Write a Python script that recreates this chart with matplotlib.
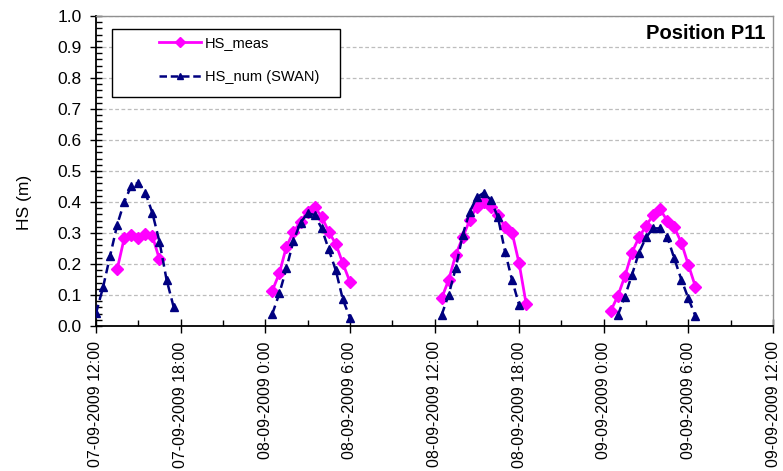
import matplotlib
matplotlib.use("Agg")
import matplotlib.pyplot as plt
import matplotlib.dates as mdates
from matplotlib.patches import Rectangle
from matplotlib.lines import Line2D
import numpy as np
import pandas as pd

plt.rcParams['font.family'] = ['Liberation Sans', 'DejaVu Sans']

# ---- data (30-minute samples, one list per tidal window) ----
num_starts = ["2009-09-07 12:00", "2009-09-08 00:30", "2009-09-08 12:30", "2009-09-09 01:00"]
hs_num_1 = [0.041, 0.125, 0.226, 0.326, 0.400, 0.452, 0.462, 0.430, 0.364, 0.272, 0.150, 0.062]
hs_num_2 = [0.039, 0.105, 0.186, 0.275, 0.333, 0.364, 0.358, 0.315, 0.247, 0.180, 0.086, 0.027]
hs_num_3 = [0.035, 0.100, 0.186, 0.294, 0.369, 0.415, 0.430, 0.406, 0.351, 0.240, 0.148, 0.068]
hs_num_4 = [0.035, 0.095, 0.165, 0.237, 0.286, 0.315, 0.315, 0.288, 0.218, 0.150, 0.089, 0.032]

meas_starts = ["2009-09-07 13:30", "2009-09-08 00:30", "2009-09-08 12:30", "2009-09-09 00:30"]
hs_meas_1 = [0.183, 0.283, 0.295, 0.285, 0.297, 0.290, 0.215]
hs_meas_2 = [0.114, 0.170, 0.256, 0.304, 0.336, 0.369, 0.383, 0.353, 0.304, 0.265, 0.202, 0.143]
hs_meas_3 = [0.089, 0.148, 0.229, 0.286, 0.342, 0.385, 0.401, 0.385, 0.358, 0.320, 0.301, 0.202, 0.071]
hs_meas_4 = [0.049, 0.097, 0.161, 0.237, 0.286, 0.323, 0.358, 0.376, 0.340, 0.318, 0.269, 0.197, 0.127]

x_start = "2009-09-07 12:00"
x_end = "2009-09-09 12:00"


def build(starts, cycles):
    xs, ys = [], []
    for s, vals in zip(starts, cycles):
        t = pd.date_range(s, periods=len(vals), freq="30min")
        xs.extend(list(t.to_pydatetime()))
        ys.extend(vals)
        # break the line between windows
        xs.append(t[-1].to_pydatetime() + pd.Timedelta("15min"))
        ys.append(np.nan)
    return xs, ys


mx, my = build(meas_starts, [hs_meas_1, hs_meas_2, hs_meas_3, hs_meas_4])
nx, ny = build(num_starts, [hs_num_1, hs_num_2, hs_num_3, hs_num_4])

fig = plt.figure(figsize=(7.83, 4.71), dpi=100)
ax = fig.add_axes([96 / 783, 1 - 326 / 471, 677 / 783, 310 / 471])

magenta = "#FF00FF"
navy = "#000080"

ax.plot(mx, my, color=magenta, lw=2.0, marker="D", ms=6.5, mec=magenta, mfc=magenta,
        label="HS_meas", zorder=3)
ax.plot(nx, ny, color=navy, lw=1.8, ls=(0, (3.5, 2)), marker="^", ms=6.2, mec=navy, mfc=navy,
        label="HS_num (SWAN)", zorder=4)

ax.set_xlim(pd.Timestamp(x_start).to_pydatetime(), pd.Timestamp(x_end).to_pydatetime())
ax.set_ylim(0, 1.0)

# grid
ax.set_yticks(np.arange(0, 1.01, 0.1))
ax.set_yticks(np.arange(0, 1.001, 0.02), minor=True)
ax.yaxis.grid(True, which="major", color="#BDBDBD", ls=(0, (3, 2)), lw=0.9)
ax.set_axisbelow(True)
ax.yaxis.set_major_formatter(matplotlib.ticker.FormatStrFormatter("%.1f"))

ax.xaxis.set_major_locator(mdates.HourLocator(byhour=[0, 6, 12, 18]))
ax.xaxis.set_minor_locator(mdates.HourLocator(byhour=[3, 9, 15, 21]))


def fmt(v, pos=None):
    d = mdates.num2date(v)
    return f"{d:%d-%m-%Y} {d.hour}:{d:%M}"


ax.xaxis.set_major_formatter(matplotlib.ticker.FuncFormatter(fmt))

ax.tick_params(axis="y", which="major", direction="inout", length=9, width=1, labelsize=12.5, pad=6)
ax.tick_params(axis="y", which="minor", direction="in", length=4, width=1)
ax.tick_params(axis="x", which="major", direction="inout", length=10, width=1, labelsize=11.5,
               pad=6, labelrotation=90)
ax.tick_params(axis="x", which="minor", direction="in", length=4, width=1)

for side in ["top", "right"]:
    ax.spines[side].set_color("#909090")
    ax.spines[side].set_linewidth(1)
for side in ["left", "bottom"]:
    ax.spines[side].set_color("black")
    ax.spines[side].set_linewidth(1.3)

ax.set_ylabel("HS (m)", fontsize=12.5)
ax.yaxis.set_label_coords(-0.095, 0.40)

ax.text(0.989, 0.945, "Position P11", transform=ax.transAxes, ha="right", va="center",
        fontsize=14.5, fontweight="bold")

# legend box
x0 = (112 - 96) / 677
x1 = (340 - 96) / 677
y1 = (326 - 29) / 310
y0 = (326 - 97) / 310
ax.add_patch(Rectangle((x0, y0), x1 - x0, y1 - y0, transform=ax.transAxes, fill=True,
                       facecolor="white", edgecolor="black", lw=1.0, zorder=5))
h1 = Line2D([], [], color=magenta, lw=2.0, marker="D", ms=5, mec=magenta, mfc=magenta)
h2 = Line2D([], [], color=navy, lw=1.8, ls=(0, (3, 1.5)), marker="^", ms=5, mec=navy, mfc=navy)
leg = ax.legend([h1, h2], ["HS_meas", "HS_num (SWAN)"], loc="upper left",
                bbox_to_anchor=((159 - 96) / 677, (326 - 36) / 310), frameon=False,
                fontsize=10.5, handlelength=2.9, handletextpad=0.25, labelspacing=1.35,
                borderpad=0, borderaxespad=0, numpoints=1)
leg.set_zorder(6)

fig.savefig("out.png", dpi=100)
